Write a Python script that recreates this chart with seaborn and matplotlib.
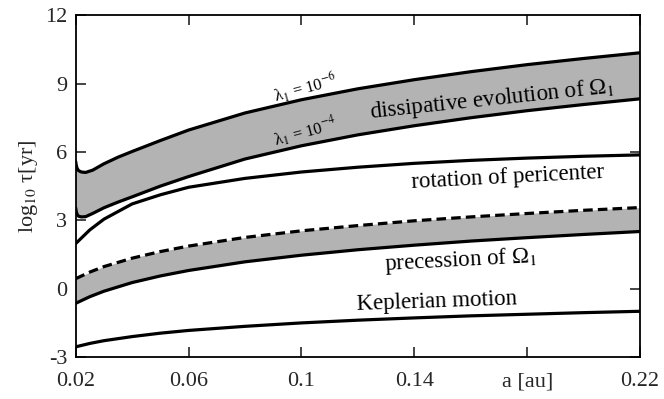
import matplotlib
matplotlib.use("Agg")
import matplotlib.pyplot as plt
import seaborn as sns
import numpy as np

# semi-major axis grid [au]
a_au = [0.02, 0.025, 0.03, 0.04, 0.05, 0.06, 0.08, 0.10, 0.12, 0.14, 0.16, 0.18, 0.20, 0.22]
kepler = [-2.55, -2.40, -2.28, -2.10, -1.95, -1.83, -1.65, -1.50, -1.38, -1.28, -1.19, -1.12, -1.05, -0.99]
precession_low = [-0.64, -0.35, -0.11, 0.27, 0.56, 0.80, 1.18, 1.47, 1.71, 1.91, 2.09, 2.24, 2.38, 2.51]
precession_high = [0.44, 0.73, 0.97, 1.34, 1.63, 1.87, 2.25, 2.54, 2.77, 2.98, 3.15, 3.30, 3.44, 3.56]
pericenter = [1.98, 2.58, 3.05, 3.72, 4.12, 4.45, 4.84, 5.12, 5.33, 5.50, 5.63, 5.73, 5.81, 5.87]

# dissipative evolution needs a finer grid near the inner edge
a_dissip = [0.0200, 0.0202, 0.0205, 0.0210, 0.0220, 0.0235, 0.0260, 0.0300, 0.0350,
            0.04, 0.05, 0.06, 0.08, 0.10, 0.12, 0.14, 0.16, 0.18, 0.20, 0.22]
dissip_lam6 = [5.58, 5.42, 5.28, 5.18, 5.12, 5.10, 5.20, 5.48, 5.77,
               6.02, 6.50, 6.96, 7.71, 8.29, 8.77, 9.17, 9.52, 9.83, 10.10, 10.35]
dissip_lam4 = [3.54, 3.38, 3.26, 3.18, 3.15, 3.16, 3.30, 3.55, 3.80,
               4.03, 4.50, 4.92, 5.69, 6.27, 6.75, 7.15, 7.50, 7.81, 8.08, 8.33]

x_ticks = [0.02, 0.06, 0.10, 0.14, 0.18, 0.22]
x_ticklabels = ["0.02", "0.06", "0.1", "0.14", "a [au]", "0.22"]
y_ticks = [-3, 0, 3, 6, 9, 12]

sns.set_theme(style="ticks")
plt.rcParams["font.family"] = ["Liberation Serif", "DejaVu Serif"]
plt.rcParams["mathtext.fontset"] = "stix"
plt.rcParams["axes.unicode_minus"] = False

fig = plt.figure(figsize=(6.64, 3.99), dpi=100)
ax = fig.add_axes([0.114, 0.105, 0.85, 0.857])

band = "#b3b3b3"
lw = 2.3
ax.fill_between(a_dissip, dissip_lam4, dissip_lam6, color=band, lw=0)
ax.fill_between(a_au, precession_low, precession_high, color=band, lw=0)

sns.lineplot(x=a_dissip, y=dissip_lam6, color="black", lw=lw, ax=ax)
sns.lineplot(x=a_dissip, y=dissip_lam4, color="black", lw=lw, ax=ax)
sns.lineplot(x=a_au, y=pericenter, color="black", lw=lw, ax=ax)
sns.lineplot(x=a_au, y=precession_low, color="black", lw=lw, ax=ax)
l = sns.lineplot(x=a_au, y=precession_high, color="black", lw=lw, ax=ax)
l.lines[-1].set_dashes((3, 1.6))
sns.lineplot(x=a_au, y=kepler, color="black", lw=lw, ax=ax)

ax.set_xlim(0.02, 0.22)
ax.set_ylim(-3, 12)
ax.set_xticks(x_ticks)
ax.set_xticklabels(x_ticklabels)
ax.set_yticks(y_ticks)
ax.tick_params(direction="in", length=7, width=1.2, labelsize=16, top=True, right=True, pad=6)
ax.tick_params(axis="x", pad=11)
for s in ax.spines.values():
    s.set_linewidth(1.3)
    s.set_color("black")
ax.set_ylabel("log$_{10}$ τ[yr]", fontsize=16, labelpad=4)
ax.set_xlabel("")

txt = dict(ha="center", va="center", color="black")
ax.text(0.1014, 8.80, "λ$_1$ = 10$^{-6}$", fontsize=12, rotation=15, **txt)
ax.text(0.1014, 6.88, "λ$_1$ = 10$^{-4}$", fontsize=12, rotation=15, **txt)
ax.text(0.1676, 8.30, "dissipative evolution of Ω$_1$", fontsize=16.5, rotation=6, **txt)
ax.text(0.1732, 4.87, "rotation of pericenter", fontsize=16.5, rotation=3, **txt)
ax.text(0.1563, 1.25, "precession of Ω$_1$", fontsize=16.5, rotation=3, **txt)
ax.text(0.1479, -0.58, "Keplerian motion", fontsize=16.5, rotation=2, **txt)

fig.savefig("out.png", dpi=100)
